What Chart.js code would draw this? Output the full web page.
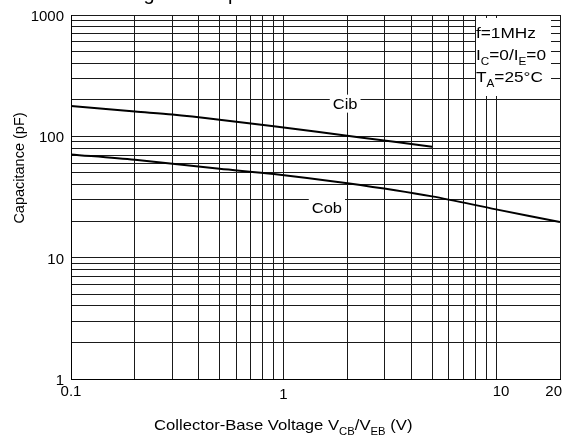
<!DOCTYPE html>
<html>
<head>
<meta charset="utf-8">
<script src="https://cdn.jsdelivr.net/npm/chart.js@4.4.1/dist/chart.umd.min.js"></script>
<style>
html,body{margin:0;padding:0;background:#fff;}
#wrap{width:563px;height:439px;position:relative;}
</style>
</head>
<body>
<div id="wrap"><canvas id="c" width="563" height="439"></canvas></div>
<script>
// ---- data ----
const cibVoltage = [0.1, 0.2, 0.3, 0.5, 0.9, 2.3, 5];
const cibCap     = [178, 160, 151, 137, 121, 98, 82];
const cobVoltage = [0.1, 0.2, 0.5, 0.9, 2, 5, 10, 20];
const cobCap     = [71, 64, 54, 49, 41, 32, 25, 19.7];
const xGridValues = [0.1,0.2,0.3,0.4,0.5,0.6,0.7,0.8,0.9,1,2,3,4,5,6,7,8,9,10,20];
const yGridValues = [1,2,3,4,5,6,7,8,9,10,20,30,40,50,60,70,80,90,100,200,300,400,500,600,700,800,900,1000];
const xTickLabels = [0.1, 1, 10, 20];
const yTickLabels = [1, 10, 100, 1000];
const conditionLines = [
  [['f=1MHz', false]],
  [['I', false], ['C', true], ['=0/I', false], ['E', true], ['=0', false]],
  [['T', false], ['A', true], ['=25°C', false]]
];
const xTitleParts = [['Collector-Base Voltage V', false], ['CB', true], ['/V', false], ['EB', true], [' (V)', false]];
const yTitle = 'Capacitance (pF)';

const FONT = '"Liberation Sans", Arial, sans-serif';

function richWidth(ctx, parts, size, sx) {
  let w = 0;
  for (const [t, sub] of parts) {
    ctx.font = (sub ? size * 0.68 : size) + 'px ' + FONT;
    w += ctx.measureText(t).width * sx;
  }
  return w;
}
function drawRich(ctx, parts, x, y, align, size, sx) {
  const w = richWidth(ctx, parts, size, sx);
  let left = align === 'center' ? x - w / 2 : align === 'right' ? x - w : x;
  ctx.save();
  ctx.fillStyle = '#000';
  ctx.textAlign = 'left';
  ctx.textBaseline = 'alphabetic';
  for (const [t, sub] of parts) {
    ctx.font = (sub ? size * 0.68 : size) + 'px ' + FONT;
    ctx.save();
    ctx.translate(left, y + (sub ? size * 0.3 : 0));
    ctx.scale(sx, 1);
    ctx.fillText(t, 0, 0);
    ctx.restore();
    left += ctx.measureText(t).width * sx;
  }
  ctx.restore();
  return w;
}

const textPlugin = {
  id: 'textPlugin',
  afterDatasetsDraw(chart) {
    const ctx = chart.ctx;
    const xs = chart.scales.x, ys = chart.scales.y;
    const ca = chart.chartArea;
    // condition box
    ctx.save();
    ctx.fillStyle = '#fff';
    ctx.fillRect(476, ca.top + 3, ca.right - 9 - 476, 78);
    ctx.restore();
    conditionLines.forEach((parts, i) => {
      drawRich(ctx, parts, 476, ca.top + 23 + i * 22, 'left', 15, 1.15);
    });
    // curve labels
    const labels = [['Cib', 1.95, 186], ['Cob', 1.6, 25.9]];
    for (const [t, v, c] of labels) {
      const px = xs.getPixelForValue(v), py = ys.getPixelForValue(c);
      ctx.font = '15px ' + FONT;
      const w = ctx.measureText(t).width * 1.1;
      ctx.save();
      ctx.fillStyle = '#fff';
      ctx.fillRect(px - w / 2 - 3, py - 9, w + 6, 18);
      ctx.restore();
      drawRich(ctx, [[t, false]], px, py + 5, 'center', 15, 1.1);
    }
  },
  afterDraw(chart) {
    const ctx = chart.ctx;
    const xs = chart.scales.x, ys = chart.scales.y;
    const ca = chart.chartArea;
    // y tick labels
    for (const v of yTickLabels) {
      const py = ys.getPixelForValue(v);
      drawRich(ctx, [[String(v), false]], 64, py + 6, 'right', 15, 1.0);
    }
    // x tick labels
    for (const v of xTickLabels) {
      let px = xs.getPixelForValue(v);
      ctx.font = '15px ' + FONT;
      const w = ctx.measureText(String(v)).width;
      if (v === 10) px += 5;
      if (px + w / 2 > 562) px = 562 - w / 2;
      drawRich(ctx, [[String(v), false]], px, ca.bottom + 17 + (v === 1 ? 3 : 0), 'center', 15, 1.0);
    }
    // x title
    drawRich(ctx, xTitleParts, 154, 430, 'left', 15, 1.11);
    // y title (rotated)
    ctx.save();
    ctx.translate(24, 168);
    ctx.rotate(-Math.PI / 2);
    ctx.font = '14.5px ' + FONT;
    ctx.fillStyle = '#000';
    ctx.textAlign = 'center';
    ctx.textBaseline = 'alphabetic';
    ctx.fillText(yTitle, 0, 0);
    ctx.restore();
    // clipped heading above the plot (only descenders visible)
    ctx.save();
    ctx.font = '20px ' + FONT;
    ctx.fillStyle = '#000';
    ctx.textAlign = 'left';
    ctx.fillText('Voltage vs. Capacitance', 99, 0);
    ctx.restore();
  }
};

const gridOpts = { color: '#1a1a1a', lineWidth: 1, drawTicks: false };

new Chart(document.getElementById('c'), {
  type: 'line',
  data: {
    datasets: [
      { label: 'Cib', data: cibVoltage.map((v, i) => ({ x: v, y: cibCap[i] })),
        borderColor: '#000', borderWidth: 2, pointRadius: 0, tension: 0.3, fill: false },
      { label: 'Cob', data: cobVoltage.map((v, i) => ({ x: v, y: cobCap[i] })),
        borderColor: '#000', borderWidth: 2, pointRadius: 0, tension: 0.3, fill: false }
    ]
  },
  options: {
    responsive: false,
    animation: false,
    events: [],
    layout: { padding: { left: 71, top: 15, right: 3, bottom: 60 } },
    plugins: { legend: { display: false }, tooltip: { enabled: false }, title: { display: false } },
    scales: {
      x: {
        type: 'logarithmic', min: 0.1, max: 20,
        afterBuildTicks: s => { s.ticks = xGridValues.map(v => ({ value: v })); },
        afterFit: s => { s.height = 0; },
        ticks: { display: false },
        grid: gridOpts,
        border: { display: true, color: '#000', width: 1 }
      },
      y: {
        type: 'logarithmic', min: 1, max: 1000,
        afterBuildTicks: s => { s.ticks = yGridValues.map(v => ({ value: v })); },
        afterFit: s => { s.width = 0; },
        ticks: { display: false },
        grid: gridOpts,
        border: { display: true, color: '#000', width: 1 }
      }
    }
  },
  plugins: [textPlugin]
});
</script>
</body>
</html>
